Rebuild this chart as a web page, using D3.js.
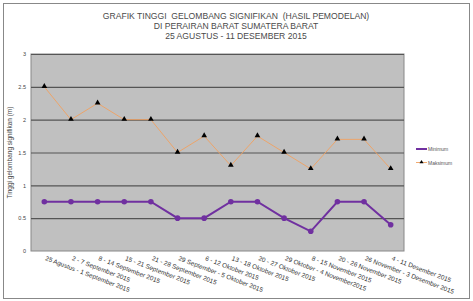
<!DOCTYPE html>
<html>
<head>
<meta charset="utf-8">
<script src="https://cdn.jsdelivr.net/npm/d3@7"></script>
<style>
  body { margin: 0; background: #fff; }
  text { font-family: "Liberation Sans", Arial, sans-serif; }
</style>
</head>
<body>
<div id="chart"></div>
<script>
var periods = [
    '25 Agustus - 1 September 2015',
    '2 - 7 September 2015',
    '8 - 14 September 2015',
    '15 - 21 September 2015',
    '21 - 28 September 2015',
    '29 September - 5 Oktober 2015',
    '6 - 12 Oktober 2015',
    '13 - 18 Oktober 2015',
    '20 - 27 Oktober 2015',
    '29 Oktober - 4 November2015',
    '8 - 15 November 2015',
    '20 - 26 November 2015',
    '26 November - 3 Desember 2015',
    '4 - 11 Desember 2015'
];
var minimum = [0.75, 0.75, 0.75, 0.75, 0.75, 0.5, 0.5, 0.75, 0.75, 0.5, 0.3, 0.75, 0.75, 0.4];
var maksimum = [2.5, 2.0, 2.25, 2.0, 2.0, 1.5, 1.75, 1.3, 1.75, 1.5, 1.25, 1.7, 1.7, 1.25];
var yTicks = [0, 0.5, 1, 1.5, 2, 2.5, 3];
var titleLines = [
    'GRAFIK TINGGI  GELOMBANG SIGNIFIKAN  (HASIL PEMODELAN)',
    'DI PERAIRAN BARAT SUMATERA BARAT',
    '25 AGUSTUS - 11 DESEMBER 2015'
];

var width = 473, height = 301;
var plot = { left: 31, top: 54, right: 404, bottom: 251 };

var svg = d3.select('#chart')
            .append('svg')
            .attr('width', width)
            .attr('height', height);

// outer frame
svg.append('rect')
    .attr('x', 3.5).attr('y', 3.5)
    .attr('width', 466).attr('height', 295)
    .attr('fill', '#fff')
    .attr('stroke', '#888');

// title
svg.append('g').selectAll('text')
    .data(titleLines)
    .enter().append('text')
    .attr('x', 236)
    .attr('y', (d, i) => 18.5 + i * 10.3)
    .attr('text-anchor', 'middle')
    .style('white-space', 'pre')
    .style('font-size', '8.6px')
    .style('fill', '#4a4a4a')
    .text(d => d);

var x = d3.scalePoint()
    .domain(periods)
    .range([plot.left, plot.right])
    .padding(0.5);

var y = d3.scaleLinear()
    .domain([0, 3])
    .range([plot.bottom, plot.top]);

// plot area
svg.append('rect')
    .attr('x', plot.left).attr('y', plot.top)
    .attr('width', plot.right - plot.left)
    .attr('height', plot.bottom - plot.top)
    .attr('fill', '#c0c0c0')
    .attr('stroke', '#888');

// gridlines
svg.append('g').selectAll('line')
    .data(yTicks.filter(d => d > 0))
    .enter().append('line')
    .attr('x1', plot.left).attr('x2', plot.right)
    .attr('y1', d => y(d) + 0.5).attr('y2', d => y(d) + 0.5)
    .attr('stroke', '#555')
    .attr('stroke-width', 1.2);

// y axis
var yAxis = svg.append('g')
    .attr('transform', 'translate(' + plot.left + ',0)')
    .call(d3.axisLeft(y).tickValues(yTicks).tickFormat(d => String(d)).tickSize(0).tickPadding(5));
yAxis.select('.domain').remove();
yAxis.selectAll('text').style('font-size', '5.5px').style('fill', '#444');

svg.append('text')
    .attr('transform', 'translate(12,' + ((plot.top + plot.bottom) / 2) + ') rotate(-90)')
    .attr('text-anchor', 'middle')
    .style('font-size', '6.5px')
    .style('fill', '#444')
    .text('Tinggi gelombang signifikan (m)');

// x labels
var xAxis = svg.append('g')
    .attr('transform', 'translate(0,' + plot.bottom + ')')
    .call(d3.axisBottom(x).tickSize(0).tickPadding(0));
xAxis.select('.domain').remove();
xAxis.selectAll('text')
    .attr('text-anchor', 'start')
    .attr('dy', 0)
    .attr('transform', d => 'translate(0,9) rotate(21)')
    .style('font-size', '6.4px')
    .style('fill', '#333');

var line = d3.line()
    .x((d, i) => x(periods[i]))
    .y(d => y(d));

// maksimum
svg.append('path')
    .datum(maksimum)
    .attr('d', line)
    .attr('fill', 'none')
    .attr('stroke', '#f0a060')
    .attr('stroke-width', 0.9);

var tri = d3.symbol().type(d3.symbolTriangle).size(14);
svg.append('g').selectAll('path')
    .data(maksimum)
    .enter().append('path')
    .attr('d', tri)
    .attr('transform', (d, i) => 'translate(' + x(periods[i]) + ',' + (y(d) - 0.5) + ')')
    .attr('fill', '#000');

// minimum
svg.append('path')
    .datum(minimum)
    .attr('d', line)
    .attr('fill', 'none')
    .attr('stroke', '#7030a0')
    .attr('stroke-width', 2);

svg.append('g').selectAll('circle')
    .data(minimum)
    .enter().append('circle')
    .attr('cx', (d, i) => x(periods[i]))
    .attr('cy', d => y(d))
    .attr('r', 2.8)
    .attr('fill', '#7030a0');

// legend
var legend = svg.append('g').attr('transform', 'translate(416,149)');
legend.append('line')
    .attr('x1', 0).attr('x2', 11).attr('y1', 0).attr('y2', 0)
    .attr('stroke', '#7030a0').attr('stroke-width', 2);
legend.append('text')
    .attr('x', 12).attr('y', 2)
    .style('font-size', '5px').style('fill', '#555')
    .text('Minimum');
legend.append('line')
    .attr('x1', 0).attr('x2', 11).attr('y1', 13.5).attr('y2', 13.5)
    .attr('stroke', '#f0a060').attr('stroke-width', 0.9);
legend.append('path')
    .attr('d', d3.symbol().type(d3.symbolTriangle).size(7))
    .attr('transform', 'translate(5.5,13.2)')
    .attr('fill', '#000');
legend.append('text')
    .attr('x', 12).attr('y', 15.5)
    .style('font-size', '5px').style('fill', '#555')
    .text('Maksimum');
</script>
</body>
</html>
